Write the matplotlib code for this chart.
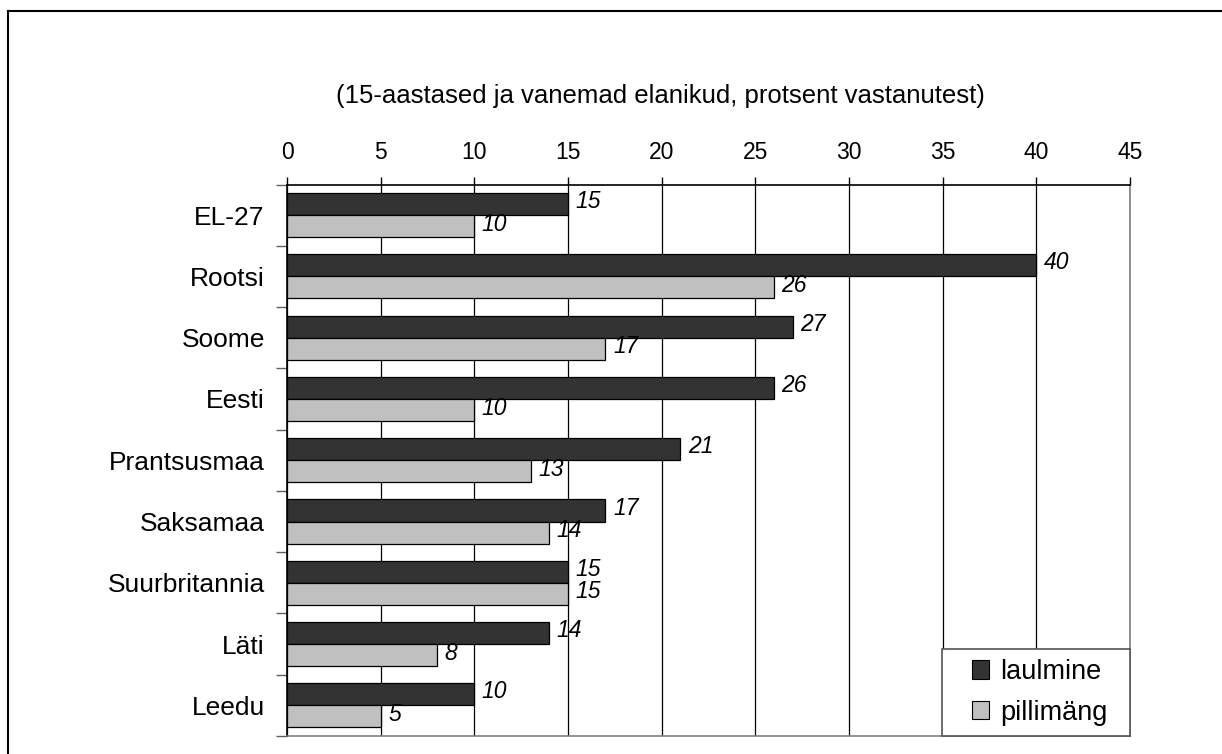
import numpy as np
from matplotlib import pyplot as plt
from matplotlib.lines import Line2D
from matplotlib.patches import Patch, Rectangle

countries = ["EL-27", "Rootsi", "Soome", "Eesti", "Prantsusmaa",
             "Saksamaa", "Suurbritannia", "Läti", "Leedu"]
laulmine = [15, 40, 27, 26, 21, 17, 15, 14, 10]
pillimang = [10, 26, 17, 10, 13, 14, 15, 8, 5]
series_names = ["laulmine", "pillimäng"]
title = "(15-aastased ja vanemad elanikud, protsent vastanutest)"

plt.rcParams['font.family'] = ['Liberation Sans', 'DejaVu Sans']

fig = plt.figure(figsize=(12.22, 7.54), dpi=100)
ax = fig.add_axes([287 / 1222, 1 - 736 / 754, (1130 - 287) / 1222, (736 - 184.5) / 754])

n = len(countries)
centers = np.arange(n) + 0.5
h = 0.36
dark = "#333333"
light = "#c0c0c0"

ax.barh(centers - h / 2, laulmine, height=h, color=dark, edgecolor="black", lw=0.9, zorder=3)
ax.barh(centers + h / 2, pillimang, height=h, color=light, edgecolor="black", lw=0.9, zorder=3)

for c, v in zip(centers, laulmine):
    ax.text(v + 0.4, c - h / 2 - 0.04, str(v), style="italic", fontsize=16.5, va="center", ha="left", zorder=4)
for c, v in zip(centers, pillimang):
    ax.text(v + 0.4, c + h / 2 - 0.03, str(v), style="italic", fontsize=16.5, va="center", ha="left", zorder=4)

ax.set_xlim(0, 45)
ax.set_ylim(n, 0)
ax.set_xticks(np.arange(0, 46, 5))
ax.xaxis.tick_top()
ax.tick_params(axis="x", direction="out", length=6, width=1, pad=9, labelsize=16.5, color="black")
ax.grid(axis="x", color="black", lw=0.9, zorder=0)

ax.set_yticks(centers)
ax.set_yticklabels(countries, fontsize=19)
ax.set_yticks(np.arange(n + 1), minor=True)
ax.tick_params(axis="y", which="major", length=0, pad=16)
ax.tick_params(axis="y", which="minor", length=8, width=1, color="#606060")

ax.spines["top"].set_color("black")
ax.spines["left"].set_color("black")
ax.spines["right"].set_color("#808080")
ax.spines["bottom"].set_color("#808080")
for s in ax.spines.values():
    s.set_linewidth(1.2)

# legend: box drawn separately so it can be wider than tall padding allows
box = Rectangle((0.777, 0.0), 0.223, 0.158, transform=ax.transAxes, facecolor="white",
                edgecolor="#555555", lw=1.2, zorder=5, clip_on=False)
ax.add_patch(box)
handles = [Patch(facecolor=dark, edgecolor="black", lw=0.8),
           Patch(facecolor=light, edgecolor="black", lw=0.8)]
leg = ax.legend(handles, series_names, loc="center", bbox_to_anchor=(0.893, 0.079),
                fontsize=19.5, frameon=False,
                handlelength=0.65, handleheight=0.65, handletextpad=0.4,
                borderpad=0.2, labelspacing=0.55, borderaxespad=0)
leg.set_zorder(6)

fig.text(660 / 1222, 1 - 96 / 754, title, fontsize=18.5, ha="center", va="center")

# outer frame of the figure (only top and left visible)
fig.add_artist(Line2D([8 / 1222, 8 / 1222], [0, 1 - 11 / 754], transform=fig.transFigure, color="black", lw=1.5))
fig.add_artist(Line2D([8 / 1222, 1], [1 - 11 / 754, 1 - 11 / 754], transform=fig.transFigure, color="black", lw=1.5))

fig.savefig("out.png", dpi=100)
